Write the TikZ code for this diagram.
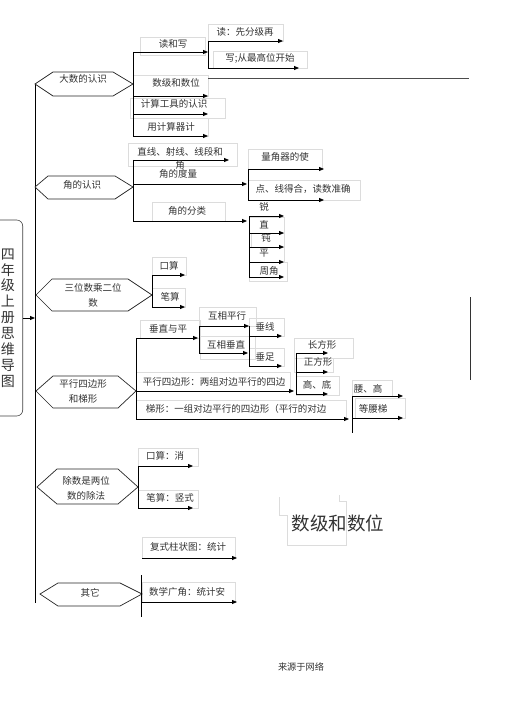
\documentclass[tikz,border=0pt]{standalone}
\usepackage{fontspec}
\newfontfamily\cjk{Noto Sans CJK SC}
\usetikzlibrary{arrows.meta}
\definecolor{txt}{HTML}{333333}
\definecolor{boxc}{HTML}{DCDCDC}
\begin{document}
\begin{tikzpicture}[x=1pt,y=-1pt,
  every node/.style={font=\cjk\fontsize{9.5}{11}\selectfont, text=txt, inner sep=0pt},
  two/.style={align=center, font=\cjk\fontsize{9.5}{15}\selectfont},
  ln/.style={draw=black, line width=0.75pt},
  arr/.style={ln, -{Triangle[length=5pt,width=4pt]}},
  bx/.style={draw=boxc, line width=0.5pt},
  hexa/.style={draw=black!85, line width=0.7pt},
]
\useasboundingbox (0,0) rectangle (505,714);

% ---------------- light label boxes
\draw[bx] (140,37) rectangle (205,55);
\draw[bx] (133,75) rectangle (208,96);
\draw[bx] (130,98) rectangle (225,118);
\draw[bx] (133,118) rectangle (208,136);
\draw[bx] (208,24) rectangle (283,41);
\draw[bx] (213,51) rectangle (307,68);
\draw[bx] (128,143) rectangle (237,166);
\draw[bx] (152,202) rectangle (225,221);
\draw[bx] (248,149) rectangle (322,169);
\draw[bx] (248,180) rectangle (360,200);
\draw[bx] (249,217) rectangle (284,233);
\draw[bx] (251,233) rectangle (284,247);
\draw[bx] (249,247) rectangle (284,262);
\draw[bx] (249,262) rectangle (287,281);
\draw[bx] (152,257) rectangle (186,275);
\draw[bx] (152,288) rectangle (185,307);
\draw[bx] (140,320) rectangle (200,338);
\draw[bx] (199,307) rectangle (256,326);
\draw[bx] (200,336) rectangle (255,359);
\draw[bx] (249,318) rectangle (284,336);
\draw[bx] (249,348) rectangle (284,366);
\draw[bx] (136,372) rectangle (290,391);
\draw[bx] (294,338) rectangle (353,358);
\draw[bx] (294,358) rectangle (333,372);
\draw[bx] (296,376) rectangle (339,395);
\draw[bx] (136,400) rectangle (346,419);
\draw[bx] (352,380) rectangle (392,396);
\draw[bx] (355,398) rectangle (405,418);
\draw[bx] (138,448) rectangle (198,466);
\draw[bx] (138,490) rectangle (198,508);
\draw[bx] (142,537) rectangle (235,558);
\draw[bx] (142,582) rectangle (235,602);
\draw[bx] (279,497) -- (279,515) -- (287,515) -- (287,545) -- (346,545) -- (346,501) -- (339,501) -- (339,495);

% ---------------- title and spine
\node[draw=black!75, line width=0.6pt, rounded corners=6pt, minimum width=44pt,
      minimum height=196pt, anchor=east] (tbox) at (23,318) {};
\node[font=\cjk\fontsize{14}{15.9}\selectfont, align=center] (title) at (8,318)
  {四\\年\\级\\上\\册\\思\\维\\导\\图};
\coordinate (spT) at (35,318);
\coordinate (sp0) at (35,84);
\coordinate (sp1) at (35,603);
\draw[ln] (sp0) -- (sp1);
\draw[arr] (tbox.east) -- (spT);

% ---------------- hexagons
\draw[hexa,fill=white] (35,84) -- (53,72) -- (113,72) -- (133,84) -- (113,96) -- (53,96) -- cycle;
\node (h1) at (83,79) {大数的认识};
\draw[hexa,fill=white] (35,187) -- (48,176) -- (115,176) -- (133,187) -- (115,199) -- (48,199) -- cycle;
\node (h2) at (82,185) {角的认识};
\draw[hexa,fill=white] (36,295) -- (52,279) -- (128,279) -- (152,295) -- (128,311) -- (52,311) -- cycle;
\node[two] (h3) at (93,295) {三位数乘二位\\数};
\draw[hexa,fill=white] (36,391) -- (53,376) -- (118,376) -- (136,391) -- (118,408) -- (53,408) -- cycle;
\node[two] (h4) at (83,391) {平行四边形\\和梯形};
\draw[hexa,fill=white] (37,487) -- (57,469) -- (118,469) -- (138,487) -- (118,504) -- (57,504) -- cycle;
\node[two] (h5) at (86,488) {除数是两位\\数的除法};
\draw[hexa,fill=white] (40,594) -- (58,583) -- (120,583) -- (142,594) -- (120,606) -- (58,606) -- cycle;
\node (h6) at (90,593) {其它};

% ---------------- group 1 : 大数的认识
\coordinate (a1) at (133,52);  \coordinate (a1e) at (208,52);
\coordinate (a2) at (133,96);  \coordinate (a2e) at (208,96);
\coordinate (a3) at (133,114); \coordinate (a3e) at (208,114);
\coordinate (a4) at (133,136); \coordinate (a4e) at (208,136);
\draw[ln] (a1) -- (a4);
\draw[arr] (a1) -- (a1e);
\draw[arr] (a2) -- (a2e);
\draw[arr] (a3) -- (a3e);
\draw[arr] (a4) -- (a4e);
\coordinate (b1) at (208,41); \coordinate (b1e) at (283,41);
\coordinate (b2) at (208,68); \coordinate (b2e) at (299,68);
\draw[ln] (b1) -- (b2);
\draw[arr] (b1) -- (b1e);
\draw[arr] (b2) -- (b2e);
\coordinate (g1) at (208,78); \coordinate (g2) at (469,78);
\draw[draw=black!70, line width=0.6pt] (g1) -- (g2);
\coordinate (k1) at (470,297); \coordinate (k2) at (470,380);
\draw[draw=black!80, line width=0.6pt] (k1) -- (k2);
\node (l1) at (173,44) {读和写};
\node (l2) at (176,83) {数级和数位};
\node (l3) at (174,104) {计算工具的认识};
\node (l4) at (171,127) {用计算器计};
\node (l5) at (245,32) {读：先分级再};
\node (l6) at (260,58) {写;从最高位开始};

% ---------------- group 2 : 角的认识
\coordinate (c1) at (133,160); \coordinate (c1e) at (229,160);
\coordinate (c2) at (133,184); \coordinate (c2e) at (247,184);
\coordinate (c3) at (133,221); \coordinate (c3e) at (247,221);
\draw[ln] (c1) -- (c3);
\draw[arr] (c1) -- (c1e);
\draw[arr] (c2) -- (c2e);
\draw[arr] (c3) -- (c3e);
\coordinate (d1) at (248,169); \coordinate (d1e) at (324,169);
\coordinate (d2) at (248,200); \coordinate (d2e) at (324,200);
\draw[ln] (d1) -- (d2);
\draw[arr] (d1) -- (d1e);
\draw[arr] (d2) -- (d2e);
\coordinate (q1) at (249,216); \coordinate (q1e) at (284,216);
\coordinate (q2) at (249,233); \coordinate (q2e) at (284,233);
\coordinate (q3) at (249,247); \coordinate (q3e) at (284,247);
\coordinate (q4) at (249,262); \coordinate (q4e) at (284,262);
\coordinate (q5) at (249,277); \coordinate (q5e) at (284,277);
\draw[ln] (q1) -- (q5);
\draw[arr] (q1) -- (q1e);
\draw[arr] (q2) -- (q2e);
\draw[arr] (q3) -- (q3e);
\draw[arr] (q4) -- (q4e);
\draw[arr] (q5) -- (q5e);
\node[align=center, font=\cjk\fontsize{9.5}{13}\selectfont] (m1) at (180,158) {直线、射线、线段和\\角};
\node (m2) at (178,174) {角的度量};
\node (m3) at (187,211) {角的分类};
\node (m4) at (285,157) {量角器的使};
\node (m5) at (303,189) {点、线得合，读数准确};
\node (m6) at (264,207) {锐};
\node (m7) at (264,225) {直};
\node (m8) at (266,238) {钝};
\node (m9) at (264,253) {平};
\node (m10) at (269,271) {周角};

% ---------------- group 3 : 三位数乘二位数
\coordinate (r1) at (152,275); \coordinate (r1e) at (185,275);
\coordinate (r2) at (152,307); \coordinate (r2e) at (185,307);
\draw[ln] (r1) -- (r2);
\draw[arr] (r1) -- (r1e);
\draw[arr] (r2) -- (r2e);
\node (n1) at (169,266) {口算};
\node (n2) at (170,297) {笔算};

% ---------------- group 4 : 平行四边形和梯形
\coordinate (p1) at (136,338); \coordinate (p1e) at (198,338);
\coordinate (p2) at (136,391); \coordinate (p2e) at (294,391);
\coordinate (p3) at (136,419); \coordinate (p3e) at (349,419);
\draw[ln] (p1) -- (p3);
\draw[arr] (p1) -- (p1e);
\draw[arr] (p2) -- (p2e);
\draw[arr] (p3) -- (p3e);
\coordinate (t1) at (199,326); \coordinate (t1e) at (249,326);
\coordinate (t2) at (199,353); \coordinate (t2e) at (248,353);
\draw[ln] (t1) -- (t2);
\draw[arr] (t1) -- (t1e);
\draw[arr] (t2) -- (t2e);
\coordinate (w0) at (249,326);
\coordinate (w1) at (249,336); \coordinate (w1e) at (282,336);
\coordinate (w2) at (249,366); \coordinate (w2e) at (282,366);
\draw[ln] (w0) -- (w2);
\draw[arr] (w1) -- (w1e);
\draw[arr] (w2) -- (w2e);
\coordinate (x1) at (296,353); \coordinate (x1e) at (328,353);
\coordinate (x2) at (296,372); \coordinate (x2e) at (328,372);
\coordinate (x3) at (296,394); \coordinate (x3e) at (328,394);
\draw[ln] (x1) -- (x3);
\draw[arr] (x1) -- (x1e);
\draw[arr] (x2) -- (x2e);
\draw[arr] (x3) -- (x3e);
\coordinate (y0) at (352,433);
\coordinate (y1) at (352,396); \coordinate (y1e) at (403,396);
\coordinate (y2) at (352,418); \coordinate (y2e) at (403,418);
\draw[ln] (y1) -- (y0);
\draw[arr] (y1) -- (y1e);
\draw[arr] (y2) -- (y2e);
\node (o1) at (168,329) {垂直与平};
\node (o2) at (227,316) {互相平行};
\node (o3) at (226,345) {互相垂直};
\node (o4) at (265,327) {垂线};
\node (o5) at (265,357) {垂足};
\node (o6) at (214,382) {平行四边形：两组对边平行的四边};
\node (o7) at (322,345) {长方形};
\node (o8) at (318,362) {正方形};
\node (o9) at (317,385) {高、底};
\node (o10) at (236,409) {梯形：一组对边平行的四边形（平行的对边};
\node (o11) at (368,389) {腰、高};
\node (o12) at (373,409) {等腰梯};

% ---------------- group 5 : 除数是两位数的除法
\coordinate (z1) at (138,466); \coordinate (z1e) at (193,466);
\coordinate (z2) at (138,508); \coordinate (z2e) at (193,508);
\draw[ln] (z1) -- (z2);
\draw[arr] (z1) -- (z1e);
\draw[arr] (z2) -- (z2e);
\node (s1) at (165,456) {口算：消};
\node (s2) at (170,498) {笔算：竖式};

% ---------------- group 6 : 其它
\coordinate (j0) at (141,575); \coordinate (j9) at (141,617);
\draw[ln] (j0) -- (j9);
\coordinate (j1) at (142,558); \coordinate (j1e) at (237,558);
\coordinate (j2) at (141,602); \coordinate (j2e) at (237,602);
\draw[arr] (j1) -- (j1e);
\draw[arr] (j2) -- (j2e);
\node (s3) at (188,547) {复式柱状图：统计};
\node (s4) at (187,592) {数学广角：统计安};

% ---------------- free texts
\node[font=\cjk\fontsize{18.5}{20}\selectfont] (big) at (338,523) {数级和数位};
\node[font=\cjk\fontsize{9.2}{11}\selectfont] (src) at (301,667) {来源于网络};
\end{tikzpicture}
\end{document}
